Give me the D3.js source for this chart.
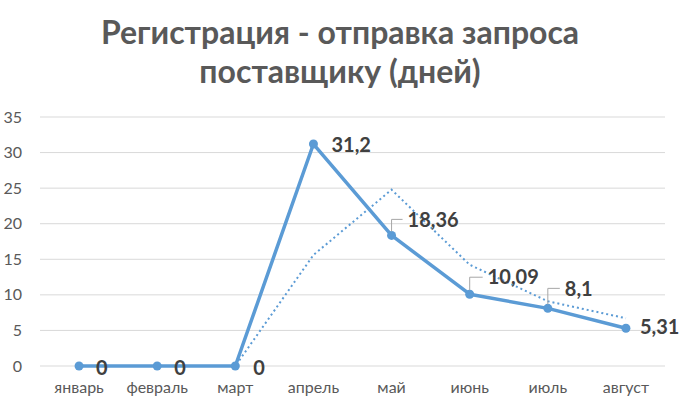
<!DOCTYPE html>
<html>
<head>
<meta charset="utf-8">
<script src="https://cdn.jsdelivr.net/npm/d3@7"></script>
<style>
  body { margin: 0; background: #fff; }
  text { font-family: Lato, "Open Sans", sans-serif; }
</style>
</head>
<body>
<script>
// chart data
const months = ["январь", "февраль", "март", "апрель", "май", "июнь", "июль", "август"];
const days = [0, 0, 0, 31.2, 18.36, 10.09, 8.1, 5.31];
const dayLabels = ["0", "0", "0", "31,2", "18,36", "10,09", "8,1", "5,31"];
// dotted trend line (2-point moving average as drawn)
const trend = [null, 0, 0, 15.6, 24.78, 14.23, 9.1, 6.71];
const yTicks = [0, 5, 10, 15, 20, 25, 30, 35];
const titleLines = ["Регистрация - отправка запроса", "поставщику (дней)"];

const width = 684;
const height = 407;
const margin = { top: 117, right: 19, bottom: 41, left: 40 };

const svg = d3.select("body").append("svg")
  .attr("width", width)
  .attr("height", height);

const x = d3.scaleBand()
  .domain(months)
  .range([margin.left, width - margin.right]);

const y = d3.scaleLinear()
  .domain([0, 35])
  .range([height - margin.bottom, margin.top]);

const cx = (m) => x(m) + x.bandwidth() / 2;

// title
svg.append("g")
  .selectAll("text")
  .data(titleLines)
  .join("text")
  .attr("x", width / 2 - 2)
  .attr("y", (d, i) => 44 + i * 39)
  .attr("text-anchor", "middle")
  .attr("fill", "#595959")
  .attr("font-size", 32)
  .attr("font-weight", "bold")
  .text((d) => d);

// gridlines
svg.append("g")
  .selectAll("line")
  .data(yTicks)
  .join("line")
  .attr("x1", margin.left)
  .attr("x2", width - margin.right)
  .attr("y1", (d) => y(d))
  .attr("y2", (d) => y(d))
  .attr("stroke", "#d9d9d9")
  .attr("stroke-width", 1);

// y axis labels
const yAxis = svg.append("g")
  .attr("transform", `translate(${margin.left},0)`)
  .call(d3.axisLeft(y).tickValues(yTicks).tickSize(0).tickPadding(18));
yAxis.select(".domain").remove();
yAxis.selectAll("text")
  .attr("fill", "#595959")
  .attr("font-size", 16)
  .style("font-family", "Lato, 'Open Sans', sans-serif");

// x axis labels
const xAxis = svg.append("g")
  .attr("transform", `translate(0,${height - margin.bottom})`)
  .call(d3.axisBottom(x).tickSize(0).tickPadding(16));
xAxis.select(".domain").remove();
xAxis.selectAll("text")
  .attr("fill", "#595959")
  .attr("font-size", 16)
  .style("font-family", "Lato, 'Open Sans', sans-serif");

// dotted trend line
const trendLine = d3.line()
  .defined((d) => d !== null)
  .x((d, i) => cx(months[i]))
  .y((d) => y(d));

svg.append("path")
  .datum(trend)
  .attr("fill", "none")
  .attr("stroke", "#5B9BD5")
  .attr("stroke-width", 2)
  .attr("stroke-dasharray", "2,3")
  .attr("d", trendLine);

// main line
const line = d3.line()
  .x((d, i) => cx(months[i]))
  .y((d) => y(d));

svg.append("path")
  .datum(days)
  .attr("fill", "none")
  .attr("stroke", "#5B9BD5")
  .attr("stroke-width", 3.5)
  .attr("stroke-linejoin", "round")
  .attr("d", line);

svg.append("g")
  .selectAll("circle")
  .data(days)
  .join("circle")
  .attr("cx", (d, i) => cx(months[i]))
  .attr("cy", (d) => y(d))
  .attr("r", 4.5)
  .attr("fill", "#5B9BD5");

// label offsets relative to the point (dx, dy of label start / middle)
const labelOffsets = [
  { dx: 17, dy: 2, leader: false },
  { dx: 17, dy: 2, leader: false },
  { dx: 18, dy: 2, leader: false },
  { dx: 18, dy: 1, leader: false },
  { dx: 16, dy: -16, leader: true },
  { dx: 18, dy: -17, leader: true },
  { dx: 17, dy: -20, leader: true },
  { dx: 14, dy: -1, leader: false },
];

const labels = svg.append("g");
days.forEach((d, i) => {
  const px = cx(months[i]);
  const py = y(d);
  const o = labelOffsets[i];
  if (o.leader) {
    labels.append("path")
      .attr("d", `M${px},${py - 4} L${px},${py + o.dy} L${px + o.dx - 5},${py + o.dy}`)
      .attr("fill", "none")
      .attr("stroke", "#a6a6a6")
      .attr("stroke-width", 1);
  }
  labels.append("text")
    .attr("x", px + o.dx)
    .attr("y", py + o.dy)
    .attr("dy", "0.36em")
    .attr("fill", "#404040")
    .attr("font-size", 20)
    .attr("font-weight", "bold")
    .text(dayLabels[i]);
});
</script>
</body>
</html>
